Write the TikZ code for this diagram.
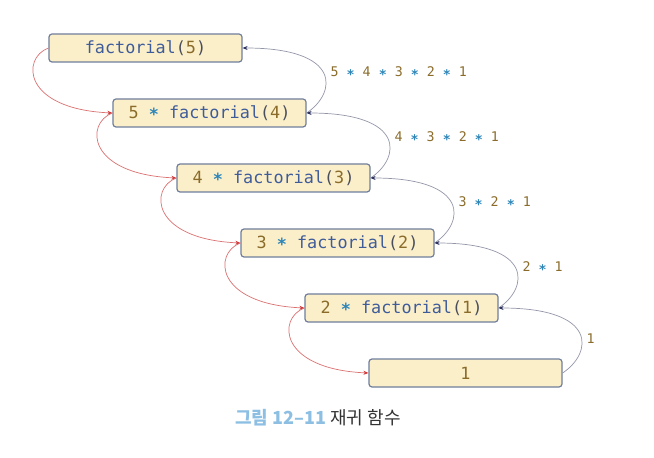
\documentclass[tikz,border=0pt]{standalone}
\usepackage{fontspec}
\setmonofont{DejaVu Sans Mono}
\newfontfamily\krfont{Noto Sans CJK KR}
\usepackage{xcolor}
\usepackage{tikz}
\usetikzlibrary{arrows.meta}

\definecolor{boxfill}{HTML}{FBEFC9}
\definecolor{boxline}{HTML}{6E7E9C}
\definecolor{fncol}{HTML}{3F5C9A}
\definecolor{numcol}{HTML}{8A6B2A}
\definecolor{mulcol}{HTML}{2E86B8}
\definecolor{parcol}{HTML}{4A4E5C}
\definecolor{callred}{HTML}{DB7070}
\definecolor{tipred}{HTML}{D43A3A}
\definecolor{retgray}{HTML}{9496A8}
\definecolor{tipnavy}{HTML}{2A2E5C}
\definecolor{capblue}{HTML}{8DBFE3}
\definecolor{capgray}{HTML}{333333}

\newcommand{\cfun}[1]{\textcolor{fncol}{factorial}\textcolor{parcol}{(}\textcolor{numcol}{#1}\textcolor{parcol}{)}}
\newcommand{\cnum}[1]{\textcolor{numcol}{#1}}
\newcommand{\cmul}{\textcolor{mulcol}{\raisebox{-0.3ex}{\bfseries *}}}

\begin{document}
\begin{tikzpicture}[
    x=1bp, y=-1bp,
    callbox/.style={draw=boxline, line width=1.2bp, fill=boxfill, rounded corners=3bp,
                    minimum width=193bp, minimum height=28bp, inner sep=0pt,
                    font=\fontsize{16.8bp}{18bp}\selectfont\ttfamily},
    call/.style={draw=callred, line width=0.7bp, -{Stealth[length=5bp, width=4bp, color=tipred]}},
    ret/.style={draw=retgray, line width=0.7bp, -{Stealth[length=5bp, width=4bp, color=tipnavy]}},
    vlab/.style={font=\fontsize{13.3bp}{15bp}\selectfont\ttfamily, right, inner sep=0pt, xshift=7bp}
]
\useasboundingbox (0,0) rectangle (654,458);

\node[callbox] (f5)   at (145.5, 48)  {\cfun{5}};
\node[callbox] (f4)   at (209.5, 113) {\cnum{5} \cmul{} \cfun{4}};
\node[callbox] (f3)   at (273.5, 178) {\cnum{4} \cmul{} \cfun{3}};
\node[callbox] (f2)   at (337.5, 243) {\cnum{3} \cmul{} \cfun{2}};
\node[callbox] (f1)   at (401.5, 308) {\cnum{2} \cmul{} \cfun{1}};
\node[callbox] (base) at (465.5, 373) {\cnum{1}};

% calls going down
\draw[call] (f5.west) .. controls +(-27,10) and +(-90,-4) .. (f4.west);
\draw[call] (f4.west) .. controls +(-27,10) and +(-90,-4) .. (f3.west);
\draw[call] (f3.west) .. controls +(-27,10) and +(-90,-4) .. (f2.west);
\draw[call] (f2.west) .. controls +(-27,10) and +(-90,-4) .. (f1.west);
\draw[call] (f1.west) .. controls +(-27,10) and +(-90,-4) .. (base.west);

% values coming back up
\draw[ret] (f4.east) .. controls +(30,-20) and +(100,0) ..
    node[vlab]{\cnum{5} \cmul{} \cnum{4} \cmul{} \cnum{3} \cmul{} \cnum{2} \cmul{} \cnum{1}} (f5.east);
\draw[ret] (f3.east) .. controls +(30,-20) and +(100,0) ..
    node[vlab]{\cnum{4} \cmul{} \cnum{3} \cmul{} \cnum{2} \cmul{} \cnum{1}} (f4.east);
\draw[ret] (f2.east) .. controls +(30,-20) and +(100,0) ..
    node[vlab]{\cnum{3} \cmul{} \cnum{2} \cmul{} \cnum{1}} (f3.east);
\draw[ret] (f1.east) .. controls +(30,-20) and +(100,0) ..
    node[vlab]{\cnum{2} \cmul{} \cnum{1}} (f2.east);
\draw[ret] (base.east) .. controls +(30,-20) and +(100,0) ..
    node[vlab, yshift=-6bp]{\cnum{1}} (f1.east);

\node[font=\krfont\fontsize{18bp}{20bp}\selectfont] (cap) at (318, 418)
    {\textcolor{capblue}{\bfseries 그림 12–11} \textcolor{capgray}{재귀 함수}};
\end{tikzpicture}
\end{document}
